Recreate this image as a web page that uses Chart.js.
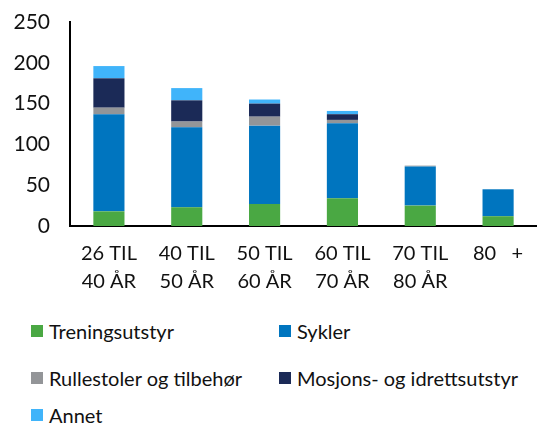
<!DOCTYPE html>
<html lang="no">
  <head>
    <meta charset="UTF-8" />
    <title>Hjelpemidler etter alder</title>
    <script src="https://cdn.jsdelivr.net/npm/chart.js@4/dist/chart.umd.min.js"></script>
    <style>
      body { margin: 0; background: #fff; font-family: Lato, sans-serif; }
      #wrap { position: relative; width: 537px; height: 300px; }
      #legend { position: relative; width: 537px; height: 123px; }
      .item { position: absolute; display: flex; align-items: center; height: 24px; font-size: 20px; color: #111; white-space: nowrap; }
      .box { width: 12px; height: 12px; margin-right: 6px; }
    </style>
  </head>
  <body>
    <div id="wrap"><canvas id="myChart"></canvas></div>
    <div id="legend"></div>

    <script>
      var categories = [
        ["26 TIL", "40 ÅR"],
        ["40 TIL", "50 ÅR"],
        ["50 TIL", "60 ÅR"],
        ["60 TIL", "70 ÅR"],
        ["70 TIL", "80 ÅR"],
        "80   +",
      ];
      var seriesNames = [
        "Treningsutstyr",
        "Sykler",
        "Rullestoler og tilbehør",
        "Mosjons- og idrettsutstyr",
        "Annet",
      ];
      var seriesColors = ["#4aa843", "#0075bf", "#939598", "#1b2a57", "#40b4fa"];

      var treningsutstyr = [18, 23, 27, 34, 25, 12];
      var sykler = [119, 98, 96, 92, 48, 33];
      var rullestoler = [8, 7, 11, 4, 1, 0];
      var mosjons = [36, 26, 16, 7, 0, 0];
      var annet = [15, 15, 5, 4, 0, 0];

      var seriesValues = [treningsutstyr, sykler, rullestoler, mosjons, annet];
      var yTicks = [0, 50, 100, 150, 200, 250];

      var datasets = seriesNames.map(function (name, i) {
        return {
          label: name,
          data: seriesValues[i],
          backgroundColor: seriesColors[i],
          borderWidth: 0,
        };
      });

      var ctx = document.getElementById("myChart").getContext("2d");
      var myChart = new Chart(ctx, {
        type: "bar",
        data: { labels: categories, datasets: datasets },
        options: {
          responsive: true,
          maintainAspectRatio: false,
          animation: false,
          layout: { padding: { top: 22, right: 0, left: 0, bottom: 0 } },
          plugins: { legend: { display: false }, tooltip: { enabled: false } },
          datasets: { bar: { categoryPercentage: 1, barPercentage: 0.4 } },
          scales: {
            x: {
              stacked: true,
              grid: { display: false, drawTicks: false },
              border: { color: "#000", width: 2 },
              ticks: {
                color: "#111",
                font: { family: "Lato", size: 20, lineHeight: 1.4 },
                padding: 14,
                maxRotation: 0,
                autoSkip: false,
              },
              afterFit: function (scale) {
                scale.height = 74;
                scale.paddingLeft = 0;
                scale.paddingRight = 0;
              },
            },
            y: {
              stacked: true,
              min: 0,
              max: 250,
              grid: { display: false, drawTicks: false },
              border: { color: "#000", width: 2 },
              afterBuildTicks: function (scale) {
                scale.ticks = yTicks.map(function (v) { return { value: v }; });
              },
              ticks: {
                color: "#111",
                font: { family: "Lato", size: 21 },
                padding: 20,
              },
              afterFit: function (scale) {
                scale.width = 70;
                scale.paddingTop = 0;
                scale.paddingBottom = 0;
              },
            },
          },
        },
      });

      // legend in two columns under the chart
      var legendPos = [[31, 331], [279, 331], [31, 378], [279, 378], [31, 415]];
      var legend = document.getElementById("legend");
      seriesNames.forEach(function (name, i) {
        var item = document.createElement("div");
        item.className = "item";
        item.style.left = legendPos[i][0] + "px";
        item.style.top = (legendPos[i][1] - 300 - 12) + "px";
        item.innerHTML = '<span class="box" style="background:' + seriesColors[i] + '"></span>' + name;
        legend.appendChild(item);
      });
    </script>
  </body>
</html>
